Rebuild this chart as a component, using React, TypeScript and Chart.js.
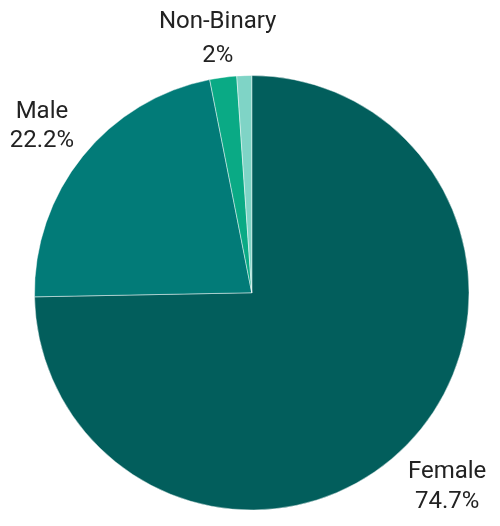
import React, { useEffect, useRef } from "react";
import { Chart, registerables } from "chart.js";

Chart.register(...registerables);

const categories = ["Female", "Male", "Non-Binary", "Other"];
const values = [74.7, 22.2, 2, 1.1];
const showLabel = [true, true, true, false];
const colors = ["#025e5c", "#027b78", "#0aaa85", "#7fd4c6"];

const FONT = "24px Roboto";
const CAP_HALF = 8.65;

const outerLabels = {
  id: "outerLabels",
  afterDatasetsDraw(chart: any) {
    const ctx = chart.ctx;
    const meta = chart.getDatasetMeta(0);
    ctx.save();
    ctx.font = FONT;
    ctx.fillStyle = "#222222";
    ctx.textAlign = "center";
    ctx.textBaseline = "alphabetic";
    meta.data.forEach((arc: any, i: number) => {
      if (!showLabel[i]) return;
      const p = arc.getProps(["x", "y", "startAngle", "endAngle", "outerRadius"], true);
      const mid = (p.startAngle + p.endAngle) / 2;
      const dx = Math.cos(mid);
      const dy = Math.sin(mid);
      const lines = [categories[i], `${values[i]}%`];
      const hw = Math.max(...lines.map((l) => ctx.measureText(l).width)) / 2 - 1;
      const hh = 17;
      const dist = p.outerRadius + 17.3 + hw * Math.abs(dx) + hh * Math.abs(dy);
      const gap = 19.5 + 14.6 * Math.abs(dy);
      const cx = p.x + dx * dist;
      const cy = p.y + dy * dist;
      ctx.fillText(lines[0], cx, cy - gap / 2 + CAP_HALF);
      ctx.fillText(lines[1], cx, cy + gap / 2 + CAP_HALF);
    });
    ctx.restore();
  },
};

export default function App() {
  const ref = useRef<HTMLCanvasElement>(null);
  useEffect(() => {
    document.body.style.margin = "0";
    const chart = new Chart(ref.current!, {
      type: "pie",
      data: {
        labels: categories,
        datasets: [
          {
            data: values,
            backgroundColor: colors,
            borderColor: "rgba(255,255,255,0.45)",
            borderWidth: 1,
            hoverOffset: 0,
            offset: 0,
          },
        ],
      },
      options: {
        responsive: false,
        animation: false,
        layout: { padding: { left: 34, right: 30.5, top: 75, bottom: 15.5 } },
        plugins: {
          legend: { display: false },
          tooltip: { enabled: false },
        },
      },
      plugins: [outerLabels],
    });
    return () => chart.destroy();
  }, []);
  return (
    <div style={{ width: 500, height: 526 }}>
      <canvas ref={ref} width={500} height={526} />
    </div>
  );
}
